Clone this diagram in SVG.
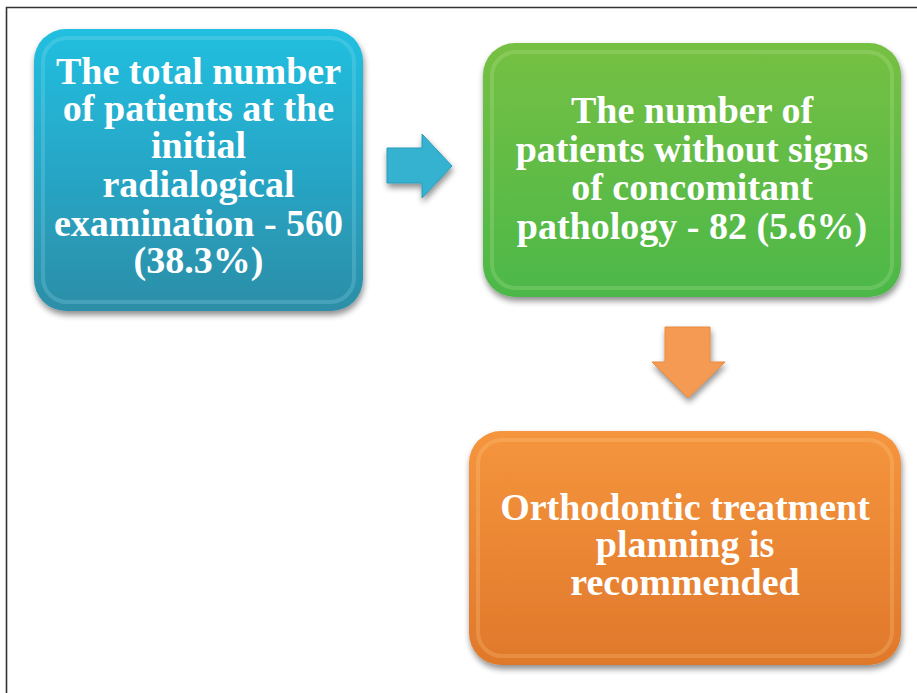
<svg xmlns="http://www.w3.org/2000/svg" width="917" height="693" viewBox="0 0 917 693">
<style>
.lbl{font-family:"Liberation Serif","Times New Roman",serif;font-weight:bold;fill:#ffffff;text-anchor:middle}
.frame{stroke:#333333;stroke-width:1.6;fill:none}
.bevel{fill:none;stroke-width:4;stroke-opacity:0.22}
</style>
<defs>
<linearGradient id="gBlue" x1="0" y1="0" x2="0" y2="1">
<stop offset="0" stop-color="#22bfe0"/><stop offset="0.5" stop-color="#27a6c6"/><stop offset="1" stop-color="#2d8ea7"/>
</linearGradient>
<linearGradient id="gGreen" x1="0" y1="0" x2="0" y2="1">
<stop offset="0" stop-color="#76c043"/><stop offset="1" stop-color="#4cb848"/>
</linearGradient>
<linearGradient id="gOrange" x1="0" y1="0" x2="0" y2="1">
<stop offset="0" stop-color="#f5953d"/><stop offset="1" stop-color="#e0782b"/>
</linearGradient>
<filter id="sh" x="-10%" y="-10%" width="120%" height="125%">
<feGaussianBlur in="SourceAlpha" stdDeviation="3"/>
<feOffset dx="1" dy="4" result="b"/>
<feComponentTransfer><feFuncA type="linear" slope="0.45"/></feComponentTransfer>
<feMerge><feMergeNode/><feMergeNode in="SourceGraphic"/></feMerge>
</filter>
</defs>
<rect width="917" height="693" fill="#ffffff"/>
<path class="frame" d="M6.5,693 V7.5 H917"/>
<g id="node-total">
<rect x="34" y="29" width="329" height="282" rx="32" fill="url(#gBlue)" filter="url(#sh)"/>
<rect x="43" y="38" width="311" height="264" rx="24" class="bevel" stroke="#9fe4f2"/>
<text class="lbl" font-size="38"><tspan x="198.5" y="84">The total number</tspan><tspan x="198.5" y="121">of patients at the</tspan><tspan x="198.5" y="158">initial</tspan><tspan x="198.5" y="197">radialogical</tspan><tspan x="198.5" y="236">examination - 560</tspan><tspan x="198.5" y="273">(38.3%)</tspan></text>
</g>
<g id="node-without">
<rect x="483" y="43" width="418" height="254" rx="32" fill="url(#gGreen)" filter="url(#sh)"/>
<rect x="492" y="52" width="400" height="236" rx="24" class="bevel" stroke="#c8ecaa"/>
<text class="lbl" font-size="38"><tspan x="692" y="123">The number of</tspan><tspan x="692" y="162">patients without signs</tspan><tspan x="692" y="200">of concomitant</tspan><tspan x="692" y="239">pathology - 82 (5.6%)</tspan></text>
</g>
<g id="node-ortho">
<rect x="469" y="431" width="432" height="234" rx="32" fill="url(#gOrange)" filter="url(#sh)"/>
<rect x="478" y="440" width="414" height="216" rx="24" class="bevel" stroke="#ffdc9a"/>
<text class="lbl" font-size="38"><tspan x="685" y="520">Orthodontic treatment</tspan><tspan x="685" y="557">planning is</tspan><tspan x="685" y="595">recommended</tspan></text>
</g>
<g id="connectors">
<path d="M387,148 H422 V134 L452,166 L422,198 V183 H387 Z" fill="#35b2d0" stroke="#2a9bb8" stroke-width="1" filter="url(#sh)"/>
<path d="M665,327 H710 V362 H725 L688,398 L652,362 H665 Z" fill="#f59a52" stroke="#e88a3e" stroke-width="1" filter="url(#sh)"/>
</g>
</svg>
